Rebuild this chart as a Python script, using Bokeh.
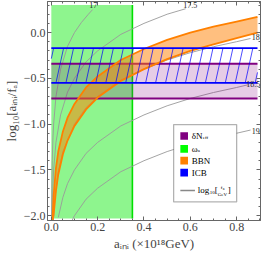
import numpy as np
from bokeh.plotting import figure
from bokeh.models import (Range1d, FixedTicker, LinearAxis, CustomJSTickFormatter,
                          BoxAnnotation, Label)
from bokeh.embed import file_html
from bokeh.resources import INLINE

# ---------------- data ----------------
x_limits = [-0.0165, 0.903]
y_limits = [-2.053, 0.339]
aini_span = [0.0, 0.89]          # a_ini extent of horizontal bands
omega_aini = [0.0, 0.35]         # omega_a allowed region (a_ini)
omega_log = [-2.03, 0.30]        # omega_a allowed region (log10)
dneff_log = [-0.72, -0.34]       # delta N_eff band
icb_log = [-0.55, -0.17]         # ICB band

bbn_upper_x = [0.0045, 0.006, 0.01, 0.02, 0.03, 0.05, 0.07, 0.1, 0.15, 0.2, 0.3, 0.4, 0.5, 0.6, 0.7, 0.8, 0.89]
bbn_upper_y = [-2.05, -2.0, -1.78, -1.48, -1.30, -1.08, -0.93, -0.78, -0.60, -0.48, -0.30, -0.18, -0.08, 0.0, 0.065, 0.12, 0.17]
bbn_lower_x = [0.0045, 0.0095, 0.02, 0.03, 0.05, 0.07, 0.1, 0.15, 0.2, 0.3, 0.4, 0.5, 0.6, 0.7, 0.8, 0.89]
bbn_lower_y = [-2.05, -2.0, -1.73, -1.55, -1.33, -1.18, -1.02, -0.84, -0.71, -0.53, -0.40, -0.29, -0.20, -0.13, -0.06, 0.0]

fa_levels = ["17", "17.5", "18", "18.5", "19"]
fa17_x = [0.001, 0.002, 0.004, 0.007, 0.01, 0.02, 0.04, 0.07, 0.1, 0.13, 0.16, 0.178]
fa17_y = [-2.0, -1.70, -1.40, -1.15, -1.0, -0.70, -0.40, -0.15, 0.0, 0.11, 0.20, 0.25]
fa175_x = [0.003, 0.005, 0.01, 0.02, 0.04, 0.07, 0.1, 0.15, 0.2, 0.3, 0.4, 0.5, 0.58]
fa175_y = [-2.02, -1.80, -1.50, -1.20, -0.90, -0.65, -0.50, -0.32, -0.20, -0.02, 0.10, 0.20, 0.26]
fa18_x = [0.009, 0.015, 0.03, 0.05, 0.1, 0.15, 0.2, 0.3, 0.4, 0.5, 0.6, 0.7, 0.8, 0.86]
fa18_y = [-2.05, -1.82, -1.52, -1.30, -1.0, -0.82, -0.70, -0.52, -0.40, -0.30, -0.22, -0.155, -0.10, -0.065]
fa185_x = [0.03, 0.05, 0.07, 0.1, 0.15, 0.2, 0.3, 0.4, 0.5, 0.6, 0.7, 0.8, 0.85]
fa185_y = [-2.02, -1.80, -1.65, -1.50, -1.32, -1.20, -1.02, -0.90, -0.80, -0.72, -0.655, -0.60, -0.57]
fa19_x = [0.09, 0.1, 0.15, 0.2, 0.3, 0.4, 0.5, 0.6, 0.7, 0.8, 0.86]
fa19_y = [-2.05, -2.0, -1.82, -1.70, -1.52, -1.40, -1.30, -1.22, -1.155, -1.10, -1.065]
fa_label_x = [0.181, 0.60, 0.883, 0.872, 0.883]
fa_label_y = [0.30, 0.30, -0.05, -0.56, -1.07]

x_ticks = [0.0, 0.2, 0.4, 0.6, 0.8]
y_ticks = [-2.0, -1.5, -1.0, -0.5, 0.0]

# ---------------- styles ----------------
SERIF = "Liberation Serif"
GREEN_FILL = "#8ef58e"
GREEN_EDGE = "#00e000"
PURPLE = "#800080"
ORANGE = "#ff8000"
BLUE = "#0000ff"
GRAY = "#9a9a9a"

p = figure(width=262, height=253, output_backend="svg", toolbar_location=None,
           x_range=Range1d(*x_limits), y_range=Range1d(*y_limits),
           min_border_left=37, min_border_right=2, min_border_top=1, min_border_bottom=31)
p.grid.visible = False
p.outline_line_color = "#666666"
p.background_fill_color = "white"

# omega_a region
p.quad(left=omega_aini[0], right=omega_aini[1], bottom=omega_log[0], top=omega_log[1],
       fill_color=GREEN_FILL, line_alpha=0)
p.line([omega_aini[1], omega_aini[1]], omega_log, line_color=GREEN_EDGE, line_width=1.6)

# contours of log10(f_a/GeV)
for cx, cy in [(fa17_x, fa17_y), (fa175_x, fa175_y), (fa18_x, fa18_y),
               (fa185_x, fa185_y), (fa19_x, fa19_y)]:
    p.line(cx, cy, line_color=GRAY, line_width=0.9)

# delta N_eff band
p.quad(left=aini_span[0], right=aini_span[1], bottom=dneff_log[0], top=dneff_log[1],
       fill_color=PURPLE, fill_alpha=0.2, line_alpha=0)
for yv in dneff_log:
    p.line(aini_span, [yv, yv], line_color=PURPLE, line_width=2)

# BBN band
poly_x = list(bbn_upper_x) + list(bbn_lower_x[::-1])
poly_y = list(bbn_upper_y) + list(bbn_lower_y[::-1])
p.patch(poly_x, poly_y, fill_color=ORANGE, fill_alpha=0.5, line_alpha=0)
p.line(bbn_upper_x, bbn_upper_y, line_color=ORANGE, line_width=1.8)
p.line(bbn_lower_x, bbn_lower_y, line_color=ORANGE, line_width=1.8)

# ICB band with steep hatching
hatch_step = 0.043
hatch_dx = 0.033
slope = (icb_log[1] - icb_log[0]) / hatch_dx
hx0, hy0, hx1, hy1 = [], [], [], []
for xb in np.arange(aini_span[0] - hatch_dx + 0.01, aini_span[1], hatch_step):
    xa, ya = xb, icb_log[0]
    xt, yt = xb + hatch_dx, icb_log[1]
    if xa < aini_span[0]:
        ya = ya + (aini_span[0] - xa) * slope
        xa = aini_span[0]
    if xt > aini_span[1]:
        yt = yt - (xt - aini_span[1]) * slope
        xt = aini_span[1]
    if xt > xa:
        hx0.append(xa); hy0.append(ya); hx1.append(xt); hy1.append(yt)
p.segment(hx0, hy0, hx1, hy1, line_color=BLUE, line_width=0.7)
for yv in icb_log:
    p.line(aini_span, [yv, yv], line_color=BLUE, line_width=1.6)

# contour labels
for t, lx, ly in zip(fa_levels, fa_label_x, fa_label_y):
    p.add_layout(Label(x=lx, y=ly, text=t, text_font=SERIF, text_font_size="8px",
                       text_color="#222222", text_align="center", text_baseline="middle"))

# ---------------- legend (manual) ----------------
leg_left, leg_right, leg_top, leg_bottom = 0.528, 0.80, -1.005, -1.85
p.add_layout(BoxAnnotation(left=leg_left, right=leg_right, top=leg_top, bottom=leg_bottom,
                           fill_color="white", fill_alpha=1.0, line_color="black", line_width=1.3))
row_y = [-1.13, -1.27, -1.40, -1.53]
sw_colors = [PURPLE, "#00ff00", ORANGE, BLUE]
for ry, c in zip(row_y, sw_colors):
    p.add_layout(BoxAnnotation(left=0.557, right=0.590, top=ry + 0.042, bottom=ry - 0.042,
                               fill_color=c, fill_alpha=1.0, line_alpha=0))
p.add_layout(BoxAnnotation(left=0.557, right=0.62, top=-1.717, bottom=-1.733,
                           fill_color="#888888", fill_alpha=1.0, line_alpha=0))
tx = 0.606
def lab(text, x, y, size="9px", xo=0, yo=0):
    p.add_layout(Label(x=x, y=y, text=text, text_font=SERIF, text_font_size=size,
                       text_align="left", text_baseline="middle", x_offset=xo, y_offset=yo,
                       text_color="black"))
lab("δN", tx, row_y[0])
lab("eff", tx, row_y[0], size="5px", xo=11, yo=-2)
lab("ω", tx, row_y[1])
lab("a", tx, row_y[1], size="5px", xo=6, yo=-2)
lab("BBN", tx, row_y[2])
lab("ICB", tx, row_y[3])
lab("log", 0.632, -1.725)
lab("10", 0.632, -1.725, size="5px", xo=12, yo=-2)
lab("[", 0.632, -1.725, xo=17)
lab("f", 0.632, -1.725, size="5px", xo=23, yo=3)
lab("a", 0.632, -1.725, size="4px", xo=25, yo=2)
lab("GeV", 0.632, -1.725, size="5px", xo=20, yo=-4)
lab("]", 0.632, -1.725, xo=30)

# ---------------- axes ----------------
fmt = CustomJSTickFormatter(code="return tick.toFixed(1).replace('-', '\u2212');")
blank = CustomJSTickFormatter(code="return '';")
xt = FixedTicker(ticks=x_ticks, minor_ticks=list(np.round(np.arange(0.0, 0.901, 0.05), 3)))
yt = FixedTicker(ticks=y_ticks, minor_ticks=list(np.round(np.arange(-2.0, 0.301, 0.1), 3)))

for ax in (p.xaxis[0], p.yaxis[0]):
    ax.major_label_text_font = SERIF
    ax.major_label_text_font_size = "12px"
    ax.axis_label_text_font = SERIF
    ax.axis_label_text_font_size = "13px"
    ax.axis_label_text_font_style = "normal"
    ax.major_tick_in = 4
    ax.major_tick_out = 0
    ax.minor_tick_in = 2
    ax.minor_tick_out = 0
    ax.axis_line_color = "#666666"
    ax.major_tick_line_color = "#666666"
    ax.minor_tick_line_color = "#666666"
    ax.major_label_standoff = 2
    ax.formatter = fmt
p.xaxis[0].ticker = xt
p.yaxis[0].ticker = yt
p.xaxis[0].axis_label = "aᵢₙᵢ (×10¹⁸GeV)"
p.yaxis[0].axis_label = "log₁₀[aᵢₙᵢ/fₐ]"
p.xaxis[0].axis_label_standoff = 2
p.yaxis[0].axis_label_standoff = 2

for side, tk in (("right", yt), ("above", xt)):
    ax = LinearAxis(ticker=tk, formatter=blank)
    ax.major_label_standoff = 0
    ax.major_label_text_font_size = "1px"
    ax.major_tick_in = 4
    ax.major_tick_out = 0
    ax.minor_tick_in = 2
    ax.minor_tick_out = 0
    ax.axis_line_color = "#666666"
    ax.major_tick_line_color = "#666666"
    ax.minor_tick_line_color = "#666666"
    p.add_layout(ax, side)

open("out.html", "w").write(file_html(p, INLINE))
